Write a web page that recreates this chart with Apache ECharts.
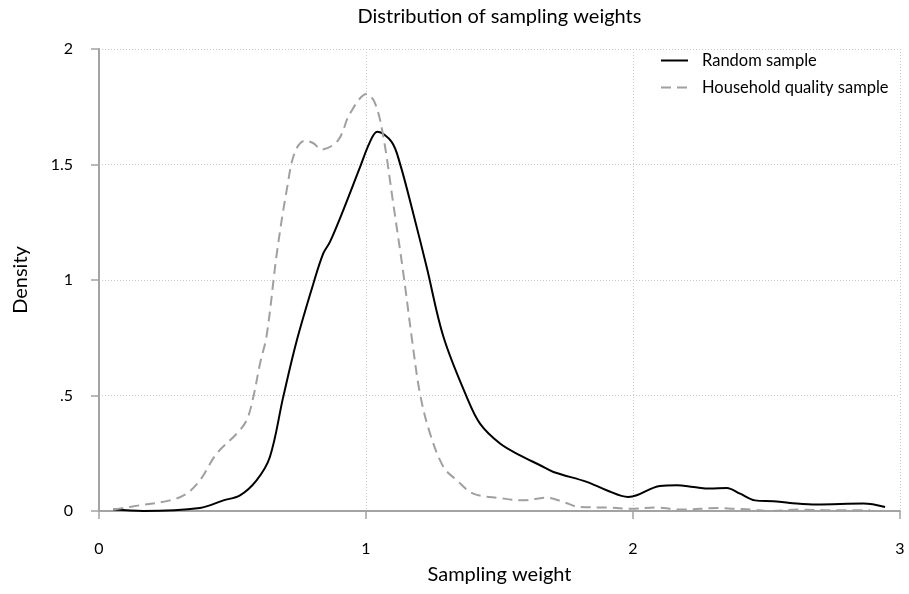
<!DOCTYPE html>
<html>
<head>
<meta charset="utf-8">
<script src="https://cdn.jsdelivr.net/npm/echarts@6/dist/echarts.min.js"></script>
<style>
  html, body { margin: 0; padding: 0; background: #fff; }
  #chart { width: 909px; height: 594px; }
</style>
</head>
<body>
<div id="chart"></div>
<script>
// 数据：核密度曲线
var randomWeight = [0.054, 0.166, 0.378, 0.466, 0.528, 0.59, 0.64, 0.69, 0.74, 0.803, 0.84, 0.865, 0.915, 0.978, 1.015, 1.042, 1.096, 1.127, 1.177, 1.227, 1.29, 1.377, 1.427, 1.502, 1.577, 1.652, 1.702, 1.827, 1.901, 1.982, 2.014, 2.101, 2.164, 2.226, 2.288, 2.351, 2.401, 2.457, 2.525, 2.588, 2.688, 2.863, 2.944];
var randomDensity = [0.006, 0.0, 0.013, 0.046, 0.068, 0.133, 0.234, 0.494, 0.735, 0.985, 1.115, 1.165, 1.303, 1.49, 1.598, 1.642, 1.598, 1.505, 1.288, 1.057, 0.754, 0.494, 0.378, 0.292, 0.241, 0.198, 0.169, 0.126, 0.09, 0.061, 0.068, 0.108, 0.111, 0.104, 0.097, 0.1, 0.075, 0.046, 0.042, 0.035, 0.028, 0.032, 0.017];

var householdWeight = [0.054, 0.154, 0.266, 0.328, 0.378, 0.441, 0.516, 0.553, 0.578, 0.603, 0.628, 0.666, 0.703, 0.734, 0.772, 0.803, 0.834, 0.896, 0.94, 1.003, 1.034, 1.065, 1.102, 1.14, 1.171, 1.202, 1.24, 1.29, 1.34, 1.402, 1.502, 1.589, 1.677, 1.739, 1.801, 1.901, 1.989, 2.089, 2.176, 2.326, 2.376, 2.451, 2.506, 2.625, 2.75, 2.888];
var householdDensity = [0.006, 0.025, 0.046, 0.075, 0.133, 0.249, 0.335, 0.393, 0.494, 0.638, 0.76, 1.115, 1.389, 1.555, 1.603, 1.592, 1.565, 1.606, 1.721, 1.805, 1.765, 1.62, 1.331, 1.028, 0.754, 0.509, 0.335, 0.191, 0.133, 0.075, 0.056, 0.046, 0.058, 0.039, 0.017, 0.015, 0.01, 0.015, 0.006, 0.013, 0.01, 0.006, 0.0, 0.006, 0.003, 0.003];

var xTickLabels = ['0', '1', '2', '3'];
var yTickLabels = ['0', '.5', '1', '1.5', '2'];

var seriesNames = ['Random sample', 'Household quality sample'];

function pairs(xs, ys) {
  return xs.map(function (x, i) { return [x, ys[i]]; });
}

var FONT = 'Lato';
var axisGray = '#a3a3a3';

var chart = echarts.init(document.getElementById('chart'));
chart.setOption({
  animation: false,
  backgroundColor: '#fff',
  textStyle: { fontFamily: FONT },
  title: {
    text: 'Distribution of sampling weights',
    left: 499.5,
    textAlign: 'center',
    top: 7,
    padding: 0,
    textStyle: { fontFamily: FONT, fontSize: 20, fontWeight: 'normal', color: '#000' }
  },
  legend: {
    orient: 'vertical',
    left: 660,
    top: 52,
    padding: 0,
    itemWidth: 27,
    itemHeight: 14,
    itemGap: 10,
    itemStyle: { opacity: 0 },
    textStyle: { fontFamily: FONT, fontSize: 16.5, color: '#000', padding: [0, 0, 0, 9] },
    data: seriesNames
  },
  grid: { left: 99, right: 9, top: 49, bottom: 83 },
  xAxis: {
    type: 'value',
    min: 0,
    max: 3,
    interval: 1,
    offset: 14,
    name: 'Sampling weight',
    nameLocation: 'middle',
    nameGap: 40,
    nameTextStyle: { fontFamily: FONT, fontSize: 20, color: '#000' },
    axisLine: { show: true, lineStyle: { color: axisGray, width: 2 } },
    axisTick: { show: true, length: 8, lineStyle: { color: axisGray, width: 1.5 } },
    axisLabel: {
      margin: 16,
      fontFamily: FONT, fontSize: 16, color: '#000',
      formatter: function (v) { return xTickLabels[Math.round(v)]; }
    },
    splitLine: { show: true, lineStyle: { color: '#c8c8c8', width: 1, type: [1, 2] } }
  },
  yAxis: {
    type: 'value',
    min: 0,
    max: 2,
    interval: 0.5,
    offset: 14,
    name: 'Density',
    nameLocation: 'middle',
    nameGap: 54,
    nameTextStyle: { fontFamily: FONT, fontSize: 20, color: '#000' },
    axisLine: { show: true, lineStyle: { color: axisGray, width: 2 } },
    axisTick: { show: true, length: 8, lineStyle: { color: axisGray, width: 1.5 } },
    axisLabel: {
      margin: 12,
      fontFamily: FONT, fontSize: 16, color: '#000',
      formatter: function (v) { return yTickLabels[Math.round(v / 0.5)]; }
    },
    splitLine: { show: true, lineStyle: { color: '#c8c8c8', width: 1, type: [1, 2] } }
  },
  series: [
    {
      name: seriesNames[0],
      type: 'line',
      symbol: 'none',
      smooth: 0.35,
      lineStyle: { color: '#000', width: 2 },
      itemStyle: { color: '#000' },
      data: pairs(randomWeight, randomDensity)
    },
    {
      name: seriesNames[1],
      type: 'line',
      symbol: 'none',
      smooth: 0.35,
      lineStyle: { color: '#a0a0a0', width: 2, type: [10, 6] },
      itemStyle: { color: '#a0a0a0' },
      data: pairs(householdWeight, householdDensity)
    }
  ]
});
</script>
</body>
</html>
